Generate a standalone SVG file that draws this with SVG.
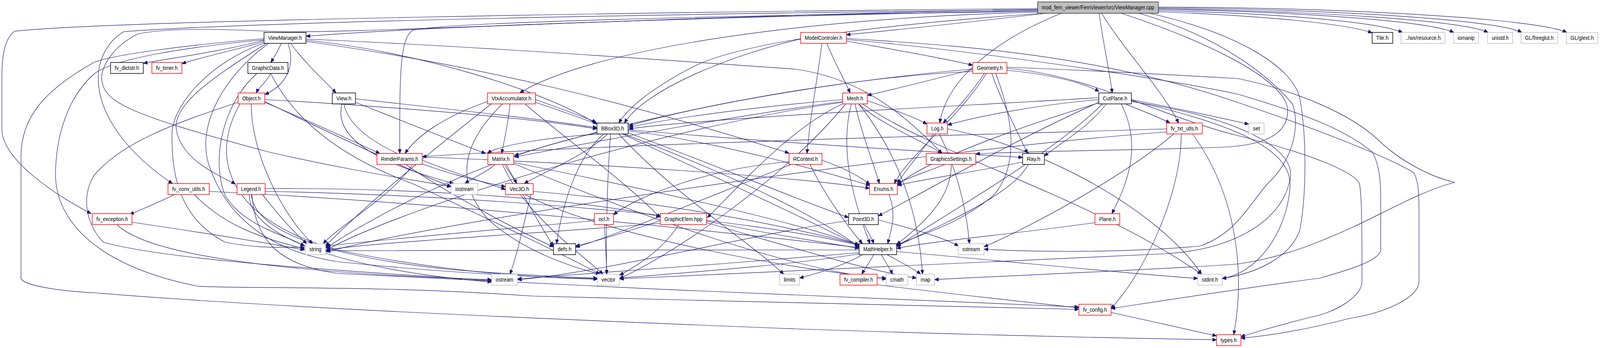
<svg xmlns="http://www.w3.org/2000/svg" width="4266" height="891" viewBox="0 0 4266 891">
<style>
.n rect{fill:#fff;stroke-width:1.5}
.b rect{stroke:#000}
.r rect{stroke:#f00}
.g rect{stroke:#bfbfbf}
.t rect{fill:#bfbfbf;stroke:#333}
.n text{font-family:"Liberation Sans",Arial,Helvetica,sans-serif;font-size:14px;text-anchor:middle;fill:#000}
#edges path{fill:none;stroke:#191970;stroke-width:1.2;marker-end:url(#a)}
</style>
<defs>
<marker id="a" markerWidth="12" markerHeight="9" refX="11" refY="4.5" orient="auto" markerUnits="userSpaceOnUse">
<path d="M0,0 L11,4.5 L0,9 z" fill="#191970" stroke="#191970" stroke-width="1"/>
</marker>
</defs>
<rect width="4266" height="891" fill="#fff"/>
<g id="graph" transform="scale(0.96 1)">
<g id="edges">
<path d="M2767,27 C2200,38 1200,62 816,93"/>
<path d="M2790,34 C2600,55 2400,76 2257,89"/>
<path d="M3089,30 C3350,40 3580,58 3659,84"/>
<path d="M3089,27 C3400,34 3670,55 3740,83"/>
<path d="M3089,24 C3450,30 3800,52 3877,83"/>
<path d="M3089,22 C3500,28 3900,52 3968,83"/>
<path d="M3089,20 C3550,24 3990,50 4058,83"/>
<path d="M3089,18 C3600,20 4100,48 4178,83"/>
<path d="M2931,34 C2940,100 2958,180 2966,238"/>
<path d="M2938,34 C2990,120 3100,230 3143,315"/>
<path d="M2830,34 C2660,100 2525,200 2506,315"/>
<path d="M2767,31 C2100,47 1560,133 1386,238"/>
<path d="M2767,29 C1900,40 1160,58 1100,78 C1065,100 1066,200 1066,393"/>
<path d="M2767,22 C1800,30 300,52 39,80 C10,100 5,150 5,200 L5,330 C5,410 150,500 243,547"/>
<path d="M2767,35 C2400,60 2000,100 1850,170 C1750,220 1680,270 1650,315"/>
<path d="M2990,34 C3200,100 3430,200 3434,283 C3434,340 3380,372 3259,377 C3000,385 2700,388 2602,394"/>
<path d="M2767,25 C1800,35 700,55 330,81 C280,110 262,160 262,200 C262,300 350,400 460,470"/>
<path d="M3037,34 C3260,95 3390,200 3447,267 C3470,330 3440,420 3380,470 C3320,540 3290,600 3200,630 C3000,648 2750,645 2624,638"/>
<path d="M3066,34 C3300,85 3445,170 3466,250 C3485,350 3484,500 3466,590 C3440,660 3350,700 3259,713"/>
<path d="M2767,24 C1800,40 900,90 720,80 C600,75 450,70 367,87 C300,120 271,170 271,200 C275,260 330,290 720,390 C950,440 1100,460 1203,478"/>
<path d="M704,103 C600,130 450,150 382,162"/>
<path d="M706,106 C640,125 530,148 485,163"/>
<path d="M750,111 C742,130 732,145 722,160"/>
<path d="M768,111 C790,170 760,220 706,242"/>
<path d="M775,111 C820,170 870,210 896,238"/>
<path d="M816,103 C1100,130 1450,230 1592,318"/>
<path d="M816,100 C1300,120 1859,160 2120,177 C2300,200 2420,300 2512,393"/>
<path d="M816,106 C1300,170 1700,270 2104,392"/>
<path d="M710,111 C600,180 460,260 470,330 C480,400 560,440 628,471"/>
<path d="M704,110 C560,160 470,260 459,333 C455,450 480,560 600,620 C700,640 780,630 812,634"/>
<path d="M716,111 C590,200 520,330 560,430 C600,540 700,640 900,670 C1200,700 1450,710 1593,714"/>
<path d="M704,102 C500,120 300,150 250,190 C180,250 148,350 148,450 C150,560 250,680 528,733 C700,740 1000,730 1420,758 C1900,770 2500,785 2877,792"/>
<path d="M704,99 C500,115 300,140 250,160 C120,230 56,300 56,400 L56,712 C60,730 150,745 257,750 C700,785 1400,815 2120,842 C2600,858 3000,866 3244,870"/>
<path d="M2257,105 C2400,130 2520,150 2594,167"/>
<path d="M2205,111 C2225,160 2250,200 2267,238"/>
<path d="M2135,100 C1950,140 1720,230 1665,315"/>
<path d="M2192,111 C2180,200 2160,300 2152,393"/>
<path d="M2257,98 C2500,115 2900,130 3300,262 C3500,327 3700,400 3771,443 C3784,470 3784,500 3784,550 L3784,721 C3784,760 3700,800 3600,815 C3500,840 3400,858 3309,866"/>
<path d="M2257,101 C2600,130 3100,200 3300,241 C3500,297 3600,340 3660,390 C3682,430 3682,479 3682,520 L3682,643 C3670,670 3600,690 3520,712 C3300,740 3100,770 2963,790"/>
<path d="M2594,178 C2500,200 2380,230 2313,244"/>
<path d="M2685,180 C2800,190 2880,210 2931,234"/>
<path d="M2625,188 C2590,240 2540,290 2515,315"/>
<path d="M2594,177 C2300,200 1900,260 1677,322"/>
<path d="M2594,183 C2200,200 1700,300 1372,398"/>
<path d="M2645,188 C2670,260 2720,350 2740,393"/>
<path d="M2630,188 C2560,300 2420,400 2385,470"/>
<path d="M2655,188 C2700,300 2720,420 2650,500 C2550,580 2450,600 2391,628"/>
<path d="M2685,175 C2900,190 3100,300 3300,347 C3500,395 3610,440 3625,470 C3632,500 3632,600 3632,721 C3632,760 3560,800 3496,812 C3400,835 3350,850 3309,862"/>
<path d="M2685,172 C2900,180 3100,190 3300,201 C3450,230 3600,290 3675,358 C3720,400 3800,450 3880,467 C3800,485 3700,540 3611,580 C3520,620 3420,660 3300,676 C3100,690 2700,705 2492,716"/>
<path d="M2247,255 C2050,270 1800,300 1677,326"/>
<path d="M2313,258 C2380,280 2440,300 2472,318"/>
<path d="M2290,266 C2350,320 2460,360 2512,393"/>
<path d="M2280,266 C2300,350 2330,420 2345,470"/>
<path d="M2270,266 C2240,380 2270,500 2320,624"/>
<path d="M2247,260 C2000,290 1600,360 1372,402"/>
<path d="M2247,266 C2100,330 1950,500 1886,557"/>
<path d="M2290,266 C2400,400 2450,550 2460,702"/>
<path d="M2247,262 C1800,320 1100,520 870,640"/>
<path d="M2255,266 C2100,450 1800,650 1652,713"/>
<path d="M2300,266 C2500,400 2900,500 3204,702"/>
<path d="M3000,266 C3050,285 3090,300 3120,315"/>
<path d="M3017,255 C3150,280 3270,305 3330,318"/>
<path d="M2930,255 C2750,270 2600,300 2527,320"/>
<path d="M2930,250 C2600,270 1900,300 1677,330"/>
<path d="M2990,266 C3050,380 3000,480 2965,547"/>
<path d="M2935,262 C2700,330 2450,420 2393,475"/>
<path d="M2940,266 C2800,400 2500,560 2391,632"/>
<path d="M2950,266 C2900,330 2820,370 2785,400"/>
<path d="M2930,262 C2700,360 2450,500 2342,553"/>
<path d="M3017,260 C3300,300 3460,380 3440,460 C3420,560 3300,640 3100,650 C2700,665 2200,690 1652,714"/>
<path d="M3017,258 C3350,330 3446,400 3440,480 C3430,600 3350,700 3259,713"/>
<path d="M3111,330 C2600,345 1600,370 1126,401"/>
<path d="M3111,338 C2500,380 1200,560 870,645"/>
<path d="M3130,343 C3000,450 2750,580 2624,632"/>
<path d="M3150,343 C3150,500 3050,700 2963,790"/>
<path d="M3180,343 C3300,500 3320,700 3290,857"/>
<path d="M2505,343 C2560,450 2580,560 2585,624"/>
<path d="M2527,330 C2800,380 3100,550 3204,702"/>
<path d="M2490,343 C2450,400 2410,440 2393,470"/>
<path d="M1100,421 C1050,500 900,580 862,624"/>
<path d="M1126,410 C1200,440 1300,470 1348,485"/>
<path d="M1126,402 C1600,420 2100,450 2319,482"/>
<path d="M1082,421 C1200,500 1400,600 1476,632"/>
<path d="M706,262 C850,320 960,370 1013,393"/>
<path d="M706,255 C1000,270 1400,300 1592,330"/>
<path d="M670,266 C670,400 760,560 834,624"/>
<path d="M640,266 C560,400 600,560 900,640 C1200,700 1450,712 1593,715"/>
<path d="M635,262 C460,317 321,367 250,450 C216,507 230,573 275,620 C413,657 720,683 1311,718"/>
<path d="M706,260 C900,350 1100,440 1203,478"/>
<path d="M722,188 C710,210 690,225 683,238"/>
<path d="M685,188 C600,260 560,400 600,500 C650,580 760,600 812,630"/>
<path d="M722,188 C780,300 900,400 1100,470 C1300,560 1500,650 1600,702"/>
<path d="M948,253 C1200,280 1450,305 1592,327"/>
<path d="M948,262 C1100,320 1230,370 1295,393"/>
<path d="M912,266 C880,380 1100,440 1210,470"/>
<path d="M917,266 C940,380 1200,450 1348,478"/>
<path d="M1300,260 C1180,300 1110,350 1080,393"/>
<path d="M1360,266 C1355,320 1342,370 1338,393"/>
<path d="M1428,255 C1500,280 1560,300 1590,313"/>
<path d="M1310,266 C1200,350 1000,500 868,630"/>
<path d="M1340,266 C1250,350 1200,450 1300,560 C1400,650 1550,690 1600,702"/>
<path d="M1400,266 C1500,350 1650,450 1761,557"/>
<path d="M1428,262 C1700,350 2100,500 2291,632"/>
<path d="M1600,343 C1480,350 1330,370 1300,393"/>
<path d="M1620,343 C1560,400 1450,440 1398,470"/>
<path d="M1675,335 C1900,360 2200,440 2320,475"/>
<path d="M1675,332 C2000,360 2500,390 2727,403"/>
<path d="M1675,340 C1900,420 2150,520 2263,557"/>
<path d="M1610,343 C1540,400 1500,520 1484,624"/>
<path d="M1650,343 C1800,500 2000,620 2090,702"/>
<path d="M1660,343 C1900,450 2150,560 2291,630"/>
<path d="M1628,343 C1620,450 1615,600 1618,702"/>
<path d="M1592,340 C1300,400 1000,550 868,636"/>
<path d="M1320,421 C1300,440 1260,455 1240,470"/>
<path d="M1350,421 C1360,440 1370,455 1378,470"/>
<path d="M1370,416 C1700,480 2100,560 2291,628"/>
<path d="M1370,419 C1700,550 2100,690 2363,715"/>
<path d="M1345,421 C1400,500 1440,580 1476,630"/>
<path d="M1340,421 C1400,550 1550,650 1608,702"/>
<path d="M2104,414 C1900,430 1700,500 1636,550"/>
<path d="M2192,410 C2250,430 2290,450 2320,472"/>
<path d="M2160,421 C2200,500 2260,580 2300,624"/>
<path d="M2110,421 C1900,500 1650,600 1535,633"/>
<path d="M2520,421 C2470,440 2420,455 2393,470"/>
<path d="M2537,421 C2536,500 2480,560 2391,626"/>
<path d="M2742,421 C2700,500 2500,580 2391,630"/>
<path d="M2727,415 C2600,440 2450,460 2393,475"/>
<path d="M465,498 C420,520 380,535 346,549"/>
<path d="M518,498 C600,580 700,610 812,637"/>
<path d="M558,490 C1200,520 1900,590 2291,634"/>
<path d="M700,498 C750,560 790,600 818,624"/>
<path d="M670,498 C680,600 900,660 1200,690 C1400,705 1520,710 1593,712"/>
<path d="M707,483 C1000,480 1500,500 1761,555"/>
<path d="M707,490 C1300,500 2000,560 2291,628"/>
<path d="M672,498 C680,620 750,680 900,700 C1500,730 2400,770 2877,786"/>
<path d="M665,498 C660,600 900,690 1311,722"/>
<path d="M1416,498 C1400,560 1380,650 1360,702"/>
<path d="M1422,490 C1800,520 2100,580 2291,626"/>
<path d="M1400,498 C1600,600 2100,690 2363,712"/>
<path d="M2370,498 C2390,540 2380,580 2367,624"/>
<path d="M352,569 C500,590 700,620 812,640"/>
<path d="M312,575 C400,660 800,700 1311,716"/>
<path d="M1612,575 C1614,620 1617,660 1618,702"/>
<path d="M1585,565 C1300,590 1000,615 870,630"/>
<path d="M1810,575 C1760,650 1680,690 1652,705"/>
<path d="M1761,565 C1650,600 1580,620 1535,630"/>
<path d="M1884,566 C2050,600 2200,620 2291,636"/>
<path d="M1761,572 C1400,600 1000,620 870,640"/>
<path d="M1884,570 C2100,630 2300,690 2444,712"/>
<path d="M2305,575 C2315,595 2325,610 2330,624"/>
<path d="M2342,563 C2450,590 2520,610 2556,630"/>
<path d="M2263,565 C2000,600 1600,700 1380,716"/>
<path d="M2920,570 C2700,600 2500,615 2391,636"/>
<path d="M2330,652 C2320,670 2305,690 2298,702"/>
<path d="M2350,652 C2360,670 2375,690 2380,702"/>
<path d="M2365,652 C2400,670 2440,690 2455,702"/>
<path d="M2300,652 C2250,680 2180,700 2132,712"/>
<path d="M2391,644 C2700,670 3000,700 3194,713"/>
<path d="M2291,647 C2000,670 1600,700 1380,714"/>
<path d="M2291,650 C2100,680 1800,700 1652,712"/>
<path d="M2291,640 C1800,640 1100,640 868,642"/>
<path d="M2339,729 C2600,760 2800,780 2877,788"/>
<path d="M2963,800 C3100,830 3200,850 3244,860"/>
</g>
<g id="n_T" class="n t"><rect x="2767" y="5" width="322" height="29"/><text x="2928" y="24.5" textLength="300" lengthAdjust="spacingAndGlyphs">mod_fem_viewer/FemViewer/src/ViewManager.cpp</text></g>
<g id="n_VM" class="n b"><rect x="704" y="83" width="112" height="28"/><text x="760" y="102" textLength="90" lengthAdjust="spacingAndGlyphs">ViewManager.h</text></g>
<g id="n_MC" class="n r"><rect x="2135" y="83" width="122" height="28"/><text x="2196" y="102" textLength="100" lengthAdjust="spacingAndGlyphs">ModelControler.h</text></g>
<g id="n_Tile" class="n b"><rect x="3659" y="83" width="55" height="28"/><text x="3686.5" y="102" textLength="33" lengthAdjust="spacingAndGlyphs">Tile.h</text></g>
<g id="n_Res" class="n g"><rect x="3736" y="83" width="117" height="28"/><text x="3794.5" y="102" textLength="95" lengthAdjust="spacingAndGlyphs">../wx/resource.h</text></g>
<g id="n_Iom" class="n g"><rect x="3876" y="83" width="67" height="28"/><text x="3909.5" y="102" textLength="45" lengthAdjust="spacingAndGlyphs">iomanip</text></g>
<g id="n_Uni" class="n g"><rect x="3967" y="83" width="67" height="28"/><text x="4000.5" y="102" textLength="45" lengthAdjust="spacingAndGlyphs">unistd.h</text></g>
<g id="n_Fg" class="n g"><rect x="4056" y="83" width="98" height="28"/><text x="4105" y="102" textLength="76" lengthAdjust="spacingAndGlyphs">GL/freeglut.h</text></g>
<g id="n_Ge" class="n g"><rect x="4177" y="83" width="84" height="28"/><text x="4219" y="102" textLength="62" lengthAdjust="spacingAndGlyphs">GL/glext.h</text></g>
<g id="n_Dict" class="n b"><rect x="295" y="160" width="87" height="28"/><text x="338.5" y="179" textLength="65" lengthAdjust="spacingAndGlyphs">fv_dictstr.h</text></g>
<g id="n_Tim" class="n r"><rect x="405" y="160" width="80" height="28"/><text x="445" y="179" textLength="58" lengthAdjust="spacingAndGlyphs">fv_timer.h</text></g>
<g id="n_GD" class="n b"><rect x="661" y="160" width="107" height="28"/><text x="714.5" y="179" textLength="85" lengthAdjust="spacingAndGlyphs">GraphicData.h</text></g>
<g id="n_Geo" class="n r"><rect x="2594" y="160" width="91" height="28"/><text x="2639.5" y="179" textLength="69" lengthAdjust="spacingAndGlyphs">Geometry.h</text></g>
<g id="n_Obj" class="n r"><rect x="635" y="238" width="71" height="28"/><text x="670.5" y="257" textLength="49" lengthAdjust="spacingAndGlyphs">Object.h</text></g>
<g id="n_View" class="n b"><rect x="886" y="238" width="62" height="28"/><text x="917" y="257" textLength="40" lengthAdjust="spacingAndGlyphs">View.h</text></g>
<g id="n_Vtx" class="n r"><rect x="1300" y="238" width="128" height="28"/><text x="1364" y="257" textLength="106" lengthAdjust="spacingAndGlyphs">VtxAccumulator.h</text></g>
<g id="n_Mesh" class="n r"><rect x="2247" y="238" width="66" height="28"/><text x="2280" y="257" textLength="44" lengthAdjust="spacingAndGlyphs">Mesh.h</text></g>
<g id="n_CP" class="n b"><rect x="2930" y="238" width="87" height="28"/><text x="2973.5" y="257" textLength="65" lengthAdjust="spacingAndGlyphs">CutPlane.h</text></g>
<g id="n_BB" class="n b"><rect x="1592" y="315" width="83" height="28"/><text x="1633.5" y="334" textLength="61" lengthAdjust="spacingAndGlyphs">BBox3D.h</text></g>
<g id="n_Log" class="n r"><rect x="2472" y="315" width="55" height="28"/><text x="2499.5" y="334" textLength="33" lengthAdjust="spacingAndGlyphs">Log.h</text></g>
<g id="n_Txt" class="n r"><rect x="3111" y="315" width="95" height="28"/><text x="3158.5" y="334" textLength="73" lengthAdjust="spacingAndGlyphs">fv_txt_utls.h</text></g>
<g id="n_Set" class="n g"><rect x="3330" y="315" width="41" height="28"/><text x="3350.5" y="334" textLength="19" lengthAdjust="spacingAndGlyphs">set</text></g>
<g id="n_RP" class="n r"><rect x="1005" y="393" width="121" height="28"/><text x="1065.5" y="412" textLength="99" lengthAdjust="spacingAndGlyphs">RenderParams.h</text></g>
<g id="n_Mat" class="n r"><rect x="1301" y="393" width="69" height="28"/><text x="1335.5" y="412" textLength="47" lengthAdjust="spacingAndGlyphs">Matrix.h</text></g>
<g id="n_RC" class="n r"><rect x="2104" y="393" width="88" height="28"/><text x="2148" y="412" textLength="66" lengthAdjust="spacingAndGlyphs">RContext.h</text></g>
<g id="n_GS" class="n r"><rect x="2470" y="393" width="132" height="28"/><text x="2536" y="412" textLength="110" lengthAdjust="spacingAndGlyphs">GraphicsSettings.h</text></g>
<g id="n_Ray" class="n b"><rect x="2727" y="393" width="58" height="28"/><text x="2756" y="412" textLength="36" lengthAdjust="spacingAndGlyphs">Ray.h</text></g>
<g id="n_Conv" class="n r"><rect x="448" y="470" width="110" height="28"/><text x="503" y="489" textLength="88" lengthAdjust="spacingAndGlyphs">fv_conv_utils.h</text></g>
<g id="n_Leg" class="n r"><rect x="632" y="470" width="75" height="28"/><text x="669.5" y="489" textLength="53" lengthAdjust="spacingAndGlyphs">Legend.h</text></g>
<g id="n_Ios" class="n g"><rect x="1203" y="470" width="71" height="28"/><text x="1238.5" y="489" textLength="49" lengthAdjust="spacingAndGlyphs">iostream</text></g>
<g id="n_V3" class="n r"><rect x="1348" y="470" width="74" height="28"/><text x="1385" y="489" textLength="52" lengthAdjust="spacingAndGlyphs">Vec3D.h</text></g>
<g id="n_En" class="n r"><rect x="2319" y="470" width="74" height="28"/><text x="2356" y="489" textLength="52" lengthAdjust="spacingAndGlyphs">Enums.h</text></g>
<g id="n_Exc" class="n r"><rect x="246" y="547" width="106" height="28"/><text x="299" y="566" textLength="84" lengthAdjust="spacingAndGlyphs">fv_exception.h</text></g>
<g id="n_Ocl" class="n r"><rect x="1585" y="547" width="51" height="28"/><text x="1610.5" y="566" textLength="29" lengthAdjust="spacingAndGlyphs">ocl.h</text></g>
<g id="n_GE" class="n r"><rect x="1761" y="547" width="123" height="28"/><text x="1822.5" y="566" textLength="101" lengthAdjust="spacingAndGlyphs">GraphicElem.hpp</text></g>
<g id="n_P3" class="n b"><rect x="2263" y="547" width="79" height="28"/><text x="2302.5" y="566" textLength="57" lengthAdjust="spacingAndGlyphs">Point3D.h</text></g>
<g id="n_Pl" class="n r"><rect x="2920" y="547" width="66" height="28"/><text x="2953" y="566" textLength="44" lengthAdjust="spacingAndGlyphs">Plane.h</text></g>
<g id="n_Str" class="n g"><rect x="814" y="624" width="54" height="28"/><text x="841" y="643" textLength="32" lengthAdjust="spacingAndGlyphs">string</text></g>
<g id="n_Defs" class="n b"><rect x="1476" y="624" width="59" height="28"/><text x="1505.5" y="643" textLength="37" lengthAdjust="spacingAndGlyphs">defs.h</text></g>
<g id="n_MH" class="n b"><rect x="2291" y="624" width="100" height="28"/><text x="2341" y="643" textLength="78" lengthAdjust="spacingAndGlyphs">MathHelper.h</text></g>
<g id="n_Ss" class="n g"><rect x="2555" y="624" width="69" height="28"/><text x="2589.5" y="643" textLength="47" lengthAdjust="spacingAndGlyphs">sstream</text></g>
<g id="n_Os" class="n g"><rect x="1311" y="702" width="69" height="28"/><text x="1345.5" y="721" textLength="47" lengthAdjust="spacingAndGlyphs">ostream</text></g>
<g id="n_Vec" class="n g"><rect x="1593" y="702" width="59" height="28"/><text x="1622.5" y="721" textLength="37" lengthAdjust="spacingAndGlyphs">vector</text></g>
<g id="n_Lim" class="n g"><rect x="2079" y="702" width="53" height="28"/><text x="2105.5" y="721" textLength="31" lengthAdjust="spacingAndGlyphs">limits</text></g>
<g id="n_Comp" class="n r"><rect x="2240" y="702" width="99" height="28"/><text x="2289.5" y="721" textLength="77" lengthAdjust="spacingAndGlyphs">fv_compiler.h</text></g>
<g id="n_Cm" class="n g"><rect x="2363" y="702" width="58" height="28"/><text x="2392" y="721" textLength="36" lengthAdjust="spacingAndGlyphs">cmath</text></g>
<g id="n_Map" class="n g"><rect x="2444" y="702" width="48" height="28"/><text x="2468" y="721" textLength="26" lengthAdjust="spacingAndGlyphs">map</text></g>
<g id="n_Sti" class="n g"><rect x="3194" y="702" width="65" height="28"/><text x="3226.5" y="721" textLength="43" lengthAdjust="spacingAndGlyphs">stdint.h</text></g>
<g id="n_Cfg" class="n r"><rect x="2877" y="779" width="86" height="28"/><text x="2920" y="798" textLength="64" lengthAdjust="spacingAndGlyphs">fv_config.h</text></g>
<g id="n_Ty" class="n r"><rect x="3244" y="857" width="65" height="28"/><text x="3276.5" y="876" textLength="43" lengthAdjust="spacingAndGlyphs">types.h</text></g>
</g>
</svg>
